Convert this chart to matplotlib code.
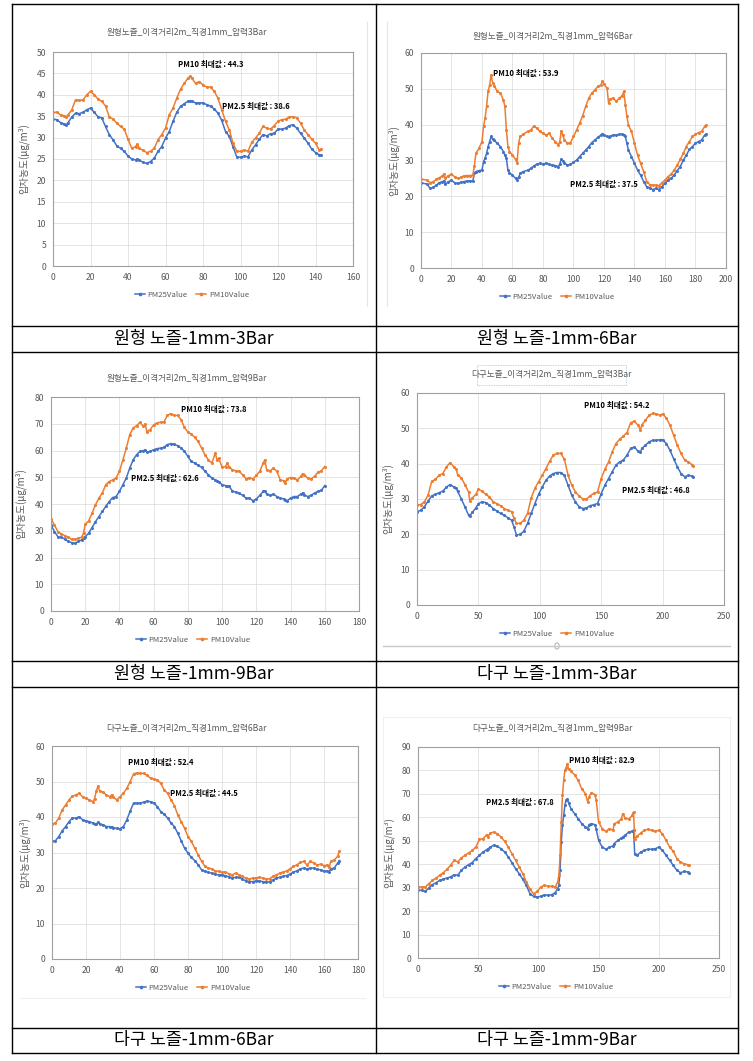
import matplotlib
matplotlib.use("Agg")
import matplotlib.pyplot as plt
from matplotlib.lines import Line2D
from matplotlib.patches import Rectangle, Circle

plt.rcParams['font.family'] = ['Noto Sans CJK KR', 'DejaVu Sans']

# ---------------- DATA ----------------
c1_x = [0,2,4,6,7,8,10,12,14,16,18,20,22,24,26,28,30,32,34,36,38,40,42,44,45,46,48,50,52,54,56,58,60,62,64,66,68,70,72,73,74,76,78,80,82,84,86,88,90,92,94,96,98,100,102,104,106,108,110,112,114,116,118,120,122,124,126,128,130,132,134,136,138,140,142,143]
c1_pm10 = [35.9,35.9,35.3,35.1,34.8,35.3,36.5,38.8,38.7,38.8,40.0,40.8,40.0,39.0,38.5,37.4,34.9,34.3,33.4,32.6,32.0,29.6,27.5,27.9,28.5,27.5,27.0,26.5,26.8,27.5,29.5,30.7,32.2,35.3,36.9,39.2,41.3,42.7,43.9,44.3,43.9,42.7,43.1,42.3,41.8,41.8,40.8,39.2,36.5,33.8,31.8,28.7,26.8,26.8,27.1,26.8,28.9,29.9,31.0,32.6,32.2,32.0,32.8,33.8,34.2,34.3,34.8,34.9,34.6,33.4,31.8,30.7,29.6,28.7,27.1,27.3]
c1_pm25 = [34.3,34.2,33.5,33.2,33.0,33.5,34.8,35.7,35.6,35.9,36.5,36.9,35.9,34.9,34.6,32.6,30.7,29.5,28.1,27.5,26.8,25.7,25.0,24.8,25.0,24.8,24.2,24.0,24.4,25.2,26.8,27.9,29.9,31.4,33.8,35.9,37.3,37.9,38.5,38.6,38.5,38.1,38.1,38.1,37.7,37.3,36.7,35.7,34.0,31.4,30.3,27.9,25.5,25.4,25.7,25.5,27.1,28.3,29.6,30.7,30.4,30.9,31.0,32.0,32.0,32.2,32.8,33.0,32.2,31.0,29.9,28.7,27.3,26.5,26.0,26.0]

c2_x = [0,4,6,8,10,12,14,15,16,18,20,22,24,26,28,30,32,34,35,36,38,40,41,42,43,44,45,46,47,48,50,52,54,55,56,57,58,60,62,63,64,65,67,70,72,74,76,78,80,82,84,86,88,90,91,92,93,94,96,98,100,102,104,106,108,110,112,114,116,118,119,120,122,123,124,126,128,130,132,133,134,135,136,138,140,142,144,146,148,150,152,154,156,158,160,162,164,166,168,170,172,174,176,178,180,182,184,186,187]
c2_pm10 = [24.8,24.5,23.8,24.1,24.7,25.2,25.7,26.2,25.0,25.8,26.1,25.5,25.0,25.3,25.7,25.8,25.8,25.9,28.5,32.0,33.4,35.3,39.5,41.8,45.1,49.3,51.1,53.9,51.6,50.9,49.3,48.8,46.9,45.1,38.5,33.9,32.5,31.5,30.3,29.4,34.8,36.7,37.3,38.1,38.5,39.6,39.0,38.1,37.6,37.1,37.6,36.2,35.3,34.3,35.3,38.3,37.1,35.7,34.8,35.0,36.7,38.5,40.4,42.5,45.1,47.4,48.8,49.7,50.7,51.1,52.1,51.3,50.2,46.0,47.2,47.4,46.5,47.4,48.1,49.3,45.5,42.3,39.9,38.1,34.8,31.5,29.2,26.9,24.1,23.3,23.1,23.1,23.0,23.8,24.5,25.5,26.2,27.3,28.7,30.3,32.0,33.9,35.3,36.7,37.3,37.8,38.1,39.5,39.9]
c2_pm25 = [23.8,23.4,22.2,22.5,23.1,23.8,24.1,24.3,23.4,24.1,24.5,23.8,23.6,23.9,24.1,24.3,24.3,24.3,26.4,26.9,27.2,27.3,29.7,30.6,32.0,33.9,35.3,36.7,35.9,35.6,34.8,33.9,32.5,31.5,30.6,27.3,26.6,25.9,25.0,24.5,25.3,26.4,26.9,27.3,27.8,28.5,29.0,29.2,29.0,29.2,28.9,28.7,28.6,28.3,29.0,30.4,30.0,29.4,28.7,28.9,29.5,30.1,31.1,32.0,32.9,33.9,35.0,35.7,36.5,37.1,37.5,37.1,36.7,36.6,36.7,37.1,37.1,37.3,37.3,37.2,36.7,34.8,32.9,31.1,29.2,27.3,25.9,24.1,22.7,22.2,21.9,22.2,21.9,22.7,23.6,24.5,25.0,25.9,27.2,28.3,30.1,31.5,33.1,33.9,34.8,35.3,35.7,37.1,37.3]

c3_x = [0,2,4,6,8,10,12,14,16,18,19,20,22,24,26,28,30,32,34,36,38,40,42,44,46,48,50,52,54,55,56,58,60,62,64,66,68,70,72,74,76,78,80,82,84,86,88,90,92,94,96,97,98,100,102,103,104,106,108,110,112,114,116,118,120,122,124,125,126,128,130,132,134,136,137,138,140,142,144,146,147,148,150,152,154,156,158,160]
c3_pm10 = [34.3,32.2,29.7,28.8,28.2,27.6,26.8,26.8,27.2,27.6,29.1,32.4,33.7,36.6,39.7,42.2,44.1,47.2,48.4,49.0,49.7,52.2,56.5,60.9,65.9,68.4,69.3,70.5,69.0,69.9,67.1,67.8,69.6,70.3,70.6,70.6,73.2,73.8,73.1,73.1,71.5,68.6,66.9,66.1,64.9,63.4,60.9,58.4,56.5,55.3,59.0,56.5,57.1,53.7,54.0,55.3,54.0,52.8,52.4,52.2,50.9,49.4,49.9,49.3,50.7,52.2,55.3,56.5,52.8,52.4,53.4,52.2,49.0,48.7,48.0,49.4,49.9,49.7,49.0,50.3,51.3,50.9,49.7,49.4,50.3,51.9,52.4,54.0]
c3_pm25 = [32.2,29.7,27.8,27.5,27.0,26.0,25.6,25.3,26.0,26.6,27.2,27.8,29.1,31.2,33.4,35.3,37.2,39.1,40.9,42.4,42.8,44.7,47.2,49.7,53.4,56.5,58.4,59.7,59.9,60.3,59.4,59.7,60.3,60.7,60.9,61.2,62.2,62.6,62.3,61.8,60.9,59.7,57.8,55.9,55.3,54.4,53.7,52.2,50.9,49.7,49.0,48.7,48.4,47.2,46.9,46.8,46.6,44.9,44.4,44.1,43.2,42.2,42.2,41.2,41.9,43.2,44.7,44.9,43.7,43.2,43.7,42.8,42.2,41.9,41.5,41.2,42.2,42.8,42.8,43.7,44.1,43.4,42.8,43.2,44.1,44.7,45.1,46.9]

c4_x = [0,3,6,9,12,15,18,21,24,27,30,32,33,36,39,42,43,45,48,50,53,56,59,62,65,68,71,74,77,79,81,84,87,90,93,96,99,102,105,108,111,114,117,120,123,126,129,132,135,138,141,144,147,150,153,156,159,162,165,168,171,174,177,180,182,183,186,189,192,195,198,200,203,206,209,212,215,218,221,224,225]
c4_pm10 = [28.4,28.4,29.2,31.1,35.0,35.6,36.7,37.2,39.1,40.3,39.1,38.4,36.9,36.0,34.1,32.0,29.4,30.3,31.3,32.8,32.2,31.3,30.6,29.2,28.7,28.1,27.3,26.8,26.4,24.5,23.1,23.1,24.0,25.9,30.3,33.0,34.9,36.7,38.6,40.7,42.4,42.9,42.9,41.3,36.7,33.9,32.0,30.9,30.0,30.0,30.9,31.6,32.0,35.8,38.4,40.5,43.3,45.7,46.9,47.8,48.8,51.6,52.0,50.9,49.5,50.9,52.3,53.7,54.2,54.1,53.7,54.1,52.9,50.9,48.0,45.2,42.9,41.0,40.5,39.7,39.4]
c4_pm25 = [26.4,26.8,27.8,29.4,30.9,31.3,31.8,32.2,33.4,34.1,33.4,33.0,32.2,30.1,27.8,25.4,25.2,26.2,27.5,28.7,29.2,29.0,28.3,27.3,26.6,25.9,25.4,24.7,24.0,22.1,19.8,20.0,20.9,23.1,25.9,28.7,31.3,33.4,35.3,36.5,37.2,37.5,37.5,36.7,33.9,31.1,29.2,27.8,27.3,27.5,28.1,28.4,28.7,31.5,33.9,35.8,37.7,39.6,40.5,41.0,42.4,44.3,44.7,43.5,43.2,44.3,45.2,46.2,46.6,46.6,46.8,46.8,45.7,43.8,41.4,39.1,37.2,36.3,36.7,36.5,36.3]

c5_x = [0,2,4,6,8,10,12,14,16,18,20,22,24,25,26,27,28,30,32,34,35,36,38,40,42,44,46,48,50,52,54,56,58,60,62,64,66,68,70,72,74,76,78,80,82,84,86,88,90,92,94,96,98,100,102,104,106,108,110,112,114,116,118,120,122,124,126,128,130,132,134,136,138,140,142,144,146,148,150,152,154,156,158,160,162,163,164,166,168,169]
c5_pm10 = [38.0,38.3,39.7,42.0,43.4,44.8,45.9,46.2,46.7,45.7,45.3,44.8,44.3,45.1,47.2,48.6,47.4,47.0,46.2,45.7,46.2,45.7,44.8,45.7,46.7,48.1,50.0,52.2,52.4,52.3,52.3,51.7,50.9,50.7,50.4,49.5,47.6,46.7,44.8,43.2,40.6,38.7,36.8,34.5,33.1,31.2,29.3,27.5,26.1,25.6,25.4,24.8,24.7,24.4,24.5,24.0,23.7,24.2,23.7,23.3,22.8,22.5,22.8,22.8,23.0,22.8,22.5,22.6,23.3,23.7,24.2,24.5,24.8,25.4,26.1,26.5,27.2,27.5,26.5,27.5,27.0,26.5,26.7,26.3,26.5,25.8,27.5,27.9,28.9,30.3]
c5_pm25 = [33.1,33.3,34.5,36.1,37.3,38.7,39.7,39.7,40.1,39.2,38.9,38.7,38.3,38.1,38.0,38.5,38.0,37.8,37.3,37.3,37.2,37.0,36.8,36.7,37.3,39.2,41.7,43.9,43.9,43.9,44.2,44.5,44.3,43.9,42.9,41.5,40.8,39.7,38.3,37.3,35.4,33.3,31.2,29.8,28.6,27.7,26.5,25.1,24.7,24.4,24.2,23.9,23.7,23.7,23.5,23.1,22.8,23.0,23.0,22.5,22.0,21.8,21.8,22.0,22.0,21.8,21.7,21.7,22.3,22.8,23.0,23.3,23.5,23.9,24.5,24.8,25.4,25.6,25.4,25.6,25.6,25.3,25.1,24.8,24.7,24.6,25.4,25.6,27.0,27.7]

c6_x = [0,3,6,9,12,15,18,21,24,27,30,33,36,39,42,45,48,51,54,57,58,60,63,66,69,72,75,78,81,84,87,90,93,96,99,102,105,108,111,114,116,117,118,119,120,121,122,123,124,125,127,130,133,136,139,141,142,144,147,148,150,153,156,159,162,163,166,169,170,172,175,178,179,180,182,185,188,191,194,197,200,203,206,209,212,215,218,221,224,225]
c6_pm10 = [30.3,30.3,30.3,31.7,33.1,34.1,35.3,36.4,37.8,39.5,41.7,41.0,42.7,43.8,44.8,45.9,47.3,50.6,50.9,52.6,51.6,53.3,53.7,53.0,51.6,49.8,47.3,44.5,41.7,38.9,36.0,32.4,29.3,27.4,28.4,30.3,31.0,30.6,30.6,30.3,32.4,35.3,43.8,58.0,69.4,75.8,80.0,81.0,82.9,80.8,79.6,78.2,75.8,72.2,70.1,66.5,68.7,70.5,69.7,67.3,58.0,55.2,54.0,55.2,54.5,57.3,58.0,59.4,61.6,59.7,59.2,60.9,62.3,50.9,52.0,53.3,54.5,54.9,54.5,54.0,54.5,53.0,50.2,47.3,45.5,42.4,41.0,40.2,39.8,39.5]
c6_pm25 = [28.9,28.9,28.4,29.9,31.3,32.1,33.1,33.6,34.1,34.6,35.5,35.3,37.4,38.8,39.8,40.7,42.4,43.8,45.2,46.2,46.5,47.3,48.1,47.6,46.6,45.2,43.1,40.7,38.1,36.0,33.6,31.0,27.4,26.3,26.0,26.3,27.0,26.7,27.0,27.9,29.6,31.0,37.4,49.5,56.6,60.9,65.1,67.3,67.8,66.3,63.7,61.6,59.4,57.3,55.9,55.2,56.9,57.3,56.9,54.9,50.2,47.3,46.4,47.3,47.8,48.8,50.2,51.2,51.6,52.3,53.7,54.0,54.5,44.5,43.8,45.2,45.9,46.4,46.4,46.6,47.3,45.9,43.8,41.7,39.5,37.4,36.4,36.9,36.7,36.4]

titles = ["원형노즐_이격거리2m_직경1mm_압력3Bar", "원형노즐_이격거리2m_직경1mm_압력6Bar",
          "원형노즐_이격거리2m_직경1mm_압력9Bar", "다구노즐_이격거리2m_직경1mm_압력3Bar",
          "다구노즐_이격거리2m_직경1mm_압력6Bar", "다구노즐_이격거리2m_직경1mm_압력9Bar"]
captions = ["원형 노즐-1mm-3Bar", "원형 노즐-1mm-6Bar", "원형 노즐-1mm-9Bar",
            "다구 노즐-1mm-3Bar", "다구 노즐-1mm-6Bar", "다구 노즐-1mm-9Bar"]
pm10_max = [44.3, 53.9, 73.8, 54.2, 52.4, 82.9]
pm25_max = [38.6, 37.5, 62.6, 46.8, 44.5, 67.8]
series_names = ["PM25Value", "PM10Value"]
ylabel = "입자농도(μg/m³)"

# ---------------- LAYOUT ----------------
W, H = 753, 1061
fig = plt.figure(figsize=(W/100, H/100), dpi=100)
BLUE = "#4472C4"
ORANGE = "#ED7D31"
GRAY = "#595959"

def fx(px): return px / W
def fy(py): return 1 - py / H

def hline(y, x0, x1, color="black", lw=1.0):
    fig.add_artist(Line2D([fx(x0), fx(x1)], [fy(y), fy(y)], transform=fig.transFigure, color=color, lw=lw))

def vline(x, y0, y1, color="black", lw=1.0):
    fig.add_artist(Line2D([fx(x), fx(x)], [fy(y0), fy(y1)], transform=fig.transFigure, color=color, lw=lw))

# table grid
for y in [4, 326, 352, 661, 687, 1028, 1053]:
    hline(y, 12, 738)
for x in [12, 376, 738]:
    vline(x, 4, 1053)

cap_pos = [(194, 339), (557, 339), (194, 674), (557, 674), (194, 1040), (557, 1040)]
for (cx, cy), cap in zip(cap_pos, captions):
    fig.text(fx(cx), fy(cy), cap, ha="center", va="center", fontsize=12.5, color="black")

charts = [
    dict(x=c1_x, p25=c1_pm25, p10=c1_pm10, rect=(53, 52, 353, 266), xmax=160, xstep=20, ymax=50, ystep=5,
         tpos=(187, 33), ylx=29, leg=(192, 295), a10=(84, 47.2), a25=(108, 37.4)),
    dict(x=c2_x, p25=c2_pm25, p10=c2_pm10, rect=(421, 53, 726, 268), xmax=200, xstep=20, ymax=60, ystep=10,
         tpos=(553, 37), ylx=399, leg=(557, 297), a10=(69, 54.2), a25=(120, 23.3)),
    dict(x=c3_x, p25=c3_pm25, p10=c3_pm10, rect=(51, 397, 359, 611), xmax=180, xstep=20, ymax=80, ystep=10,
         tpos=(187, 379), ylx=26, leg=(193, 640), a10=(95, 75.5), a25=(66.5, 49.7)),
    dict(x=c4_x, p25=c4_pm25, p10=c4_pm10, rect=(417, 393, 724, 605), xmax=250, xstep=50, ymax=60, ystep=10,
         tpos=(551, 375), ylx=393, leg=(557, 634), a10=(163, 56.5), a25=(194.5, 32.5)),
    dict(x=c5_x, p25=c5_pm25, p10=c5_pm10, rect=(52, 746, 358, 959), xmax=180, xstep=20, ymax=60, ystep=10,
         tpos=(186, 729), ylx=30, leg=(193, 988), a10=(63.7, 55.3), a25=(89.2, 46.7)),
    dict(x=c6_x, p25=c6_pm25, p10=c6_pm10, rect=(418, 747, 719, 958), xmax=250, xstep=50, ymax=90, ystep=10,
         tpos=(552, 729), ylx=394, leg=(556, 987), a10=(153, 84.3), a25=(84.3, 66.3)),
]

for i, c in enumerate(charts):
    l, t, r, b = c["rect"]
    ax = fig.add_axes([fx(l), fy(b), (r - l) / W, (b - t) / H])
    h25, = ax.plot(c["x"], c["p25"], color=BLUE, lw=1.1, marker="o", ms=2.2, mew=0, label=series_names[0])
    h10, = ax.plot(c["x"], c["p10"], color=ORANGE, lw=1.1, marker="o", ms=2.2, mew=0, label=series_names[1])
    ax.set_xlim(0, c["xmax"])
    ax.set_ylim(0, c["ymax"])
    ax.set_xticks(range(0, c["xmax"] + 1, c["xstep"]))
    ax.set_yticks(range(0, c["ymax"] + 1, c["ystep"]))
    ax.grid(True, color="#d9d9d9", lw=0.5)
    ax.set_axisbelow(True)
    for s in ax.spines.values():
        s.set_color("#a0a0a0")
        s.set_linewidth(0.8)
    ax.tick_params(length=0, labelsize=6.2, colors=GRAY, pad=5)
    ax.set_ylabel(ylabel, fontsize=7, color=GRAY)
    ax.yaxis.set_label_coords((c["ylx"] - l) / (r - l), 0.5)
    fig.text(fx(c["tpos"][0]), fy(c["tpos"][1]), titles[i], ha="center", va="center", fontsize=6.2, color=GRAY)
    ax.text(c["a10"][0], c["a10"][1], f"PM10 최대값 : {pm10_max[i]}", ha="center", va="center",
            fontsize=5.5, fontweight="bold", color="black")
    ax.text(c["a25"][0], c["a25"][1], f"PM2.5 최대값 : {pm25_max[i]}", ha="center", va="center",
            fontsize=5.5, fontweight="bold", color="black")
    leg = ax.legend(handles=[h25, h10], loc="center", bbox_to_anchor=(fx(c["leg"][0]), fy(c["leg"][1])),
                    bbox_transform=fig.transFigure, ncol=2, frameon=False, fontsize=5.6,
                    handlelength=1.3, columnspacing=1.1, handletextpad=0.35, markerscale=1.2)
    for txt in leg.get_texts():
        txt.set_color(GRAY)

# faint chart-area decorations
vline(367, 22, 306, color="#e6e6e6", lw=0.8)
vline(387, 22, 306, color="#e6e6e6", lw=0.8)
hline(646, 383, 730, color="#c8c8c8", lw=1.0)
fig.add_artist(Circle((fx(557), fy(646)), 2.2 / W, transform=fig.transFigure, facecolor="white",
                      edgecolor="#a0a0a0", lw=0.6))
fig.add_artist(Rectangle((fx(477), fy(385)), (626 - 477) / W, 20 / H, transform=fig.transFigure,
                         fill=False, edgecolor="#9dc3e6", lw=0.6, ls=(0, (1, 1))))
hline(998, 20, 365, color="#f0f0f0", lw=0.8)
fig.add_artist(Rectangle((fx(383), fy(997)), (730 - 383) / W, (997 - 717) / H, transform=fig.transFigure,
                         fill=False, edgecolor="#f0f0f0", lw=0.8))

fig.savefig("out.png", dpi=100)
